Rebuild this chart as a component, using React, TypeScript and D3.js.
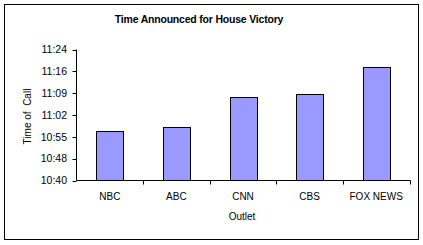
import React from "react";
import * as d3 from "d3";

const categories = ["NBC", "ABC", "CNN", "CBS", "FOX NEWS"];
// times of call as "hh:mm:ss"
const callTimes = ["10:56:30", "10:57:50", "11:07:54", "11:08:54", "11:18:04"];
const tickLabels = ["10:40", "10:48", "10:55", "11:02", "11:09", "11:16", "11:24"];
const axisMin = "10:40";
const axisMax = "11:24";

const toMin = (s: string) => {
  const p = s.split(":").map(Number);
  return p[0] * 60 + p[1] + (p[2] || 0) / 60;
};

export default function App() {
  const W = 423, H = 245;
  const left = 76.5, right = 409.5, top = 49.5, bottom = 180.5;
  const font = "Arial, 'Liberation Sans', sans-serif";

  const x = d3.scaleBand<string>().domain(categories).range([left, right]).paddingInner(0.6).paddingOuter(0.3);
  const xb = d3.scaleBand<string>().domain(categories).range([left, right]);
  const lo = toMin(axisMin), hi = toMin(axisMax);
  const y = d3.scaleLinear().domain([lo, hi]).range([bottom, top]);
  const step = (hi - lo) / (tickLabels.length - 1);
  const tickVals = tickLabels.map((_, i) => lo + i * step);

  return (
    <svg width={W} height={H} style={{ position: "absolute", left: 0, top: 0, background: "#fff" }} fontFamily={font}>
      <rect x={4.5} y={4.5} width={414} height={235} fill="#fff" stroke="#000" strokeWidth={1} />
      <text x={199} y={23} textAnchor="middle" fontWeight="bold" fontSize={10.5} letterSpacing={-0.2}>
        Time Announced for House Victory
      </text>
      {categories.map((c, i) => {
        const v = toMin(callTimes[i]);
        const y0 = y(v);
        return (
          <rect key={c} x={Math.round(x(c)!) + 0.5} y={Math.round(y0) + 0.5} width={Math.round(x.bandwidth())}
            height={bottom - Math.round(y0) - 0.5} fill="#9999FF" stroke="#000" strokeWidth={1} />
        );
      })}
      <line x1={left} x2={left} y1={top} y2={bottom} stroke="#000" />
      <line x1={left} x2={right + 1} y1={bottom} y2={bottom} stroke="#000" />
      {tickVals.map((v, i) => (
        <g key={i}>
          <line x1={left - 4} x2={left} y1={Math.round(y(v)) + 0.5} y2={Math.round(y(v)) + 0.5} stroke="#000" />
          <text x={67} y={y(v) + 3.7} textAnchor="end" fontSize={10.5}>{tickLabels[i]}</text>
        </g>
      ))}
      {categories.map((c, i) => (
        <line key={"t" + c} x1={Math.round(xb(c)! + xb.bandwidth()) + 0.5} x2={Math.round(xb(c)! + xb.bandwidth()) + 0.5}
          y1={bottom} y2={bottom + 4} stroke="#000" />
      ))}
      {categories.map((c) => (
        <text key={"l" + c} x={xb(c)! + xb.bandwidth() / 2} y={199.5} textAnchor="middle" fontSize={10}>{c}</text>
      ))}
      <text x={242} y={219.5} textAnchor="middle" fontSize={10}>Outlet</text>
      <text transform="translate(30.5,116.5) rotate(-90)" textAnchor="middle" fontSize={10} style={{ whiteSpace: "pre" }}>
        {"Time of  Call"}
      </text>
    </svg>
  );
}
